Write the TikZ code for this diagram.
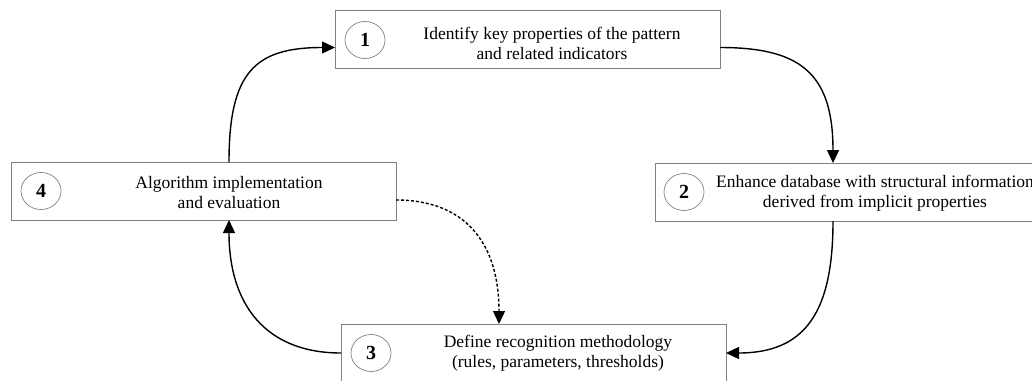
\documentclass[tikz,border=0pt]{standalone}
\usepackage{fontspec}
\setmainfont{Liberation Serif}
\usetikzlibrary{arrows.meta,shapes.geometric,calc}

\begin{document}
\begin{tikzpicture}[y=1pt, x=1pt, yscale=-1, inner sep=0pt, outer sep=0pt,
  stepbox/.style={draw=boxgray, line width=0.9pt, minimum width=385pt, minimum height=58pt},
  stepnum/.style={draw=boxgray, line width=0.7pt, ellipse, minimum width=40pt, minimum height=37pt,
    font=\fontsize{20}{20}\selectfont\bfseries},
  steptext/.style={align=center, font=\fontsize{17.5}{20}\selectfont},
  flow/.style={line width=1.4pt, -{Triangle[length=13pt,width=12pt]}},
  back/.style={flow, densely dashed}]
\definecolor{boxgray}{rgb}{0.5,0.5,0.5}
\useasboundingbox (0,0) rectangle (1032,380);
\clip (0,0) rectangle (1032,380);
% the four steps
\node [stepbox] (s1) at (527.5,39.5) {};
\node [stepnum] (n1) at (365,40) {1};
\node [steptext] (t1) at (552,43) {Identify key properties of the pattern\\and related indicators};
\node [stepbox] (s2) at (847.5,192) {};
\node [stepnum] (n2) at (684,192) {2};
\node [steptext] (t2) at (875,193) {Enhance database with structural information\\derived from implicit properties};
\node [stepbox] (s3) at (533.5,353) {};
\node [stepnum] (n3) at (371,353) {3};
\node [steptext] (t3) at (558,353) {Define recognition methodology\\(rules, parameters, thresholds)};
\node [stepbox] (s4) at (203.5,191) {};
\node [stepnum] (n4) at (41,191) {4};
\node [steptext] (t4) at (229,193) {Algorithm implementation\\and evaluation};
% cycle
\draw [flow] (t4 |- s4.north) .. controls +(0,-90) and +(-80,0) .. ($(s1.west)+(0,8)$);
\draw [flow] ($(s1.east)+(0,8)$) .. controls +(80,0) and +(0,-90) .. ($(s2.north west)+(178,0)$);
\draw [flow] ($(s2.south west)+(178,0)$) .. controls +(0,90) and +(80,0) .. (s3.east);
\draw [flow] (s3.west) .. controls +(-75,0) and +(0,85) .. (t4 |- s4.south);
\draw [back] ($(s4.east)+(0,9)$) .. controls +(70,0) and +(0,-80) .. ($(s3.north west)+(158,0)$);
\end{tikzpicture}
\end{document}
